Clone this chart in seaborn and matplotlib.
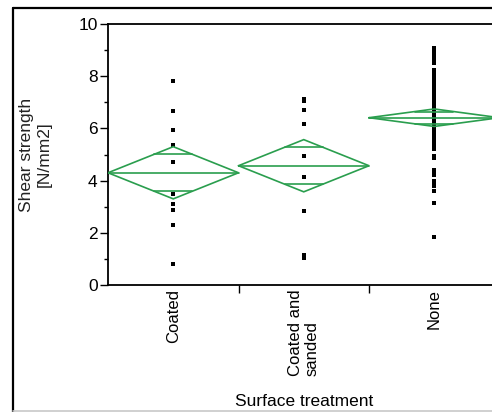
import numpy as np
import pandas as pd
import matplotlib
matplotlib.use("Agg")
import matplotlib.pyplot as plt
from matplotlib.lines import Line2D
import seaborn as sns

# ---- data ----
categories = ["Coated", "Coated and\nsanded", "None"]

coated = [7.83, 6.65, 5.93, 5.38, 4.71, 3.49, 3.10, 2.89, 2.30, 0.80]
coated_sanded = [7.12, 7.06, 6.72, 6.17, 4.94, 4.15, 2.82, 1.14, 1.05]
none = [9.08, 9.02,
        8.85, 8.78, 8.72, 8.65, 8.58, 8.52,
        8.24, 8.18, 8.12, 8.06, 8.00, 7.95, 7.90, 7.85, 7.78,
        7.65, 7.60, 7.55, 7.50, 7.45, 7.40, 7.35, 7.30, 7.25, 7.20, 7.15,
        7.10, 7.05, 7.00, 6.95, 6.90, 6.85, 6.80,
        6.78, 6.75, 6.70, 6.65, 6.60, 6.55, 6.50, 6.45, 6.40, 6.35, 6.30,
        6.25, 6.20, 6.15, 6.10, 6.05, 6.00, 5.95, 5.90, 5.85, 5.80, 5.75,
        5.70, 5.65, 5.60, 5.55, 5.50, 5.45, 5.40, 5.35, 5.30, 5.25, 5.20,
        4.95, 4.88,
        4.40, 4.30, 4.20,
        4.00, 3.90, 3.80,
        3.60,
        3.15,
        1.83]

group_means = [4.30, 4.57, 6.41]
group_ci_half = [1.00, 1.00, 0.335]

y_ticks = [0, 2, 4, 6, 8, 10]
y_minor = [1, 3, 5, 7, 9]

# ---- build table ----
df = pd.DataFrame({
    "Surface treatment": [categories[0]] * len(coated)
    + [categories[1]] * len(coated_sanded)
    + [categories[2]] * len(none),
    "Shear strength": coated + coated_sanded + none,
})

sns.set_theme(style="white")
plt.rcParams["font.family"] = ["Liberation Sans", "DejaVu Sans"]

W, H = 492, 412
fig = plt.figure(figsize=(W / 100, H / 100), dpi=100)
ax_left = 108 / W
ax_bottom = 1 - 285 / H
ax_h = (285 - 24) / H
ax_w = 3 * 130.5 / W
ax = fig.add_axes([ax_left, ax_bottom, ax_w, ax_h])

sns.stripplot(data=df, x="Surface treatment", y="Shear strength",
              order=categories, jitter=False, color="black", marker="s",
              size=2.3, linewidth=0, ax=ax, zorder=3)

green = "#2a9e4e"
hw = 0.5
for i, (m, c) in enumerate(zip(group_means, group_ci_half)):
    xs = [i - hw, i, i + hw, i, i - hw]
    ys = [m, m + c, m, m - c, m]
    ax.plot(xs, ys, color=green, lw=1.2, zorder=4, solid_joinstyle="miter")
    ax.plot([i - hw, i + hw], [m, m], color=green, lw=1.2, zorder=4)
    d = c / np.sqrt(2)
    ow = hw * (1 - 1 / np.sqrt(2))
    for s in (1, -1):
        ax.plot([i - ow, i + ow], [m + s * d, m + s * d], color=green,
                lw=1.2, zorder=4)

ax.set_xlim(-0.5, 2.5)
ax.set_ylim(0, 10)
ax.set_yticks(y_ticks)
ax.set_yticks(y_minor, minor=True)
ax.set_yticklabels([str(t) for t in y_ticks], fontsize=12.5)
ax.set_xticks(range(len(categories)))
ax.set_xticks([0.5, 1.5], minor=True)
ax.set_xticklabels(categories, rotation=90, fontsize=12, va="top",
                   ha="center", multialignment="left")
ax.tick_params(axis="y", which="major", direction="out", length=6,
               width=1, color="black", pad=1.5, left=True, labelcolor="black")
ax.tick_params(axis="y", which="minor", direction="out", length=3,
               width=1, color="black", left=True)
ax.tick_params(axis="x", which="major", length=0, pad=3, labelcolor="black")
ax.tick_params(axis="x", which="minor", direction="out", length=6,
               width=1, color="black", bottom=True)

for sp in ax.spines.values():
    sp.set_visible(True)
    sp.set_color("black")
    sp.set_linewidth(1.3)

ax.set_ylabel("Shear strength\n[N/mm2]", fontsize=12.5, color="#222222",
              labelpad=19, multialignment="center")
ax.set_xlabel("Surface treatment", fontsize=12.5, color="black", labelpad=13)
ax.grid(False)

# outer frame
fig.add_artist(Line2D([13 / W, 13 / W], [0, 1 - 8 / H], color="black",
                      lw=1.6, transform=fig.transFigure))
fig.add_artist(Line2D([13 / W, 1], [1 - 8 / H, 1 - 8 / H], color="black",
                      lw=1.6, transform=fig.transFigure))
fig.add_artist(Line2D([13 / W, 1], [1.5 / H, 1.5 / H], color="#c8c8c8",
                      lw=1.2, transform=fig.transFigure))

fig.savefig("out.png", dpi=100)
